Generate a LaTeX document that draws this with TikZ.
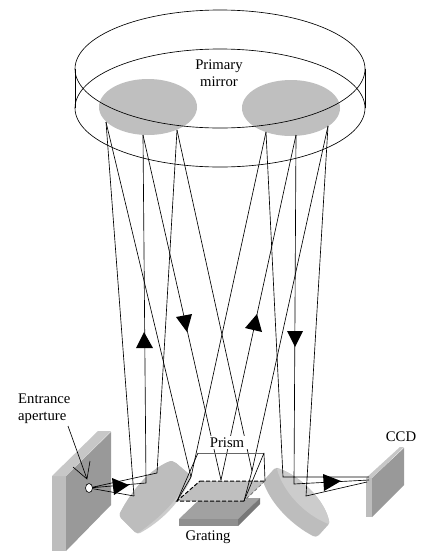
\documentclass[tikz,border=0pt]{standalone}
\usepackage{fontspec}
\setmainfont{Liberation Serif}
\definecolor{mlight}{gray}{0.80}
\definecolor{mdark}{gray}{0.74}
\definecolor{wfront}{gray}{0.6}
\definecolor{wlight}{gray}{0.74}
\definecolor{wtop}{gray}{0.78}
\begin{document}
\begin{tikzpicture}[x=1pt,y=-1pt,
  ray/.style={draw=black,line width=0.65pt},
  lbl/.style={inner sep=0pt,font=\fontsize{14.7}{17}\selectfont,align=center},
  tip/.style={fill=black,draw=none},
  edge/.style={draw=black,line width=0.65pt}]
\useasboundingbox (0,0) rectangle (425,560);
\fill[white] (0,0) rectangle (425,560);
% gray mirrors
\fill[black!25] (148,107) ellipse (49 and 28);
\fill[black!25] (291,108) ellipse (49 and 28);
% primary
\draw[edge] (220,69) ellipse (145 and 59);
\draw[edge] (220,108) ellipse (145 and 59);
\draw[edge] (75,69)--(75,108) (365,69)--(365,108);
\node[lbl] (pm) at (219,73.5) {Primary\\mirror};
% entrance wall
\fill[wfront] (66,476)--(111,432)--(111,505)--(66,551)--cycle;
\fill[wlight] (52,476)--(66,476)--(66,551)--(52,551)--cycle;
\fill[wtop] (52,476)--(98,431)--(111,431)--(66,476)--cycle;
% ccd
\fill[wfront] (372,478)--(404,448)--(404,485)--(372,517)--cycle;
\fill[wlight] (366,478)--(372,478)--(372,517)--(366,517)--cycle;
\fill[wtop] (366,478)--(400,447)--(404,447)--(372,478)--cycle;
% grating
\fill[black!37] (179,519)--(201,498)--(260,498)--(238,519)--cycle;
\fill[black!44] (179,519)--(238,519)--(238,526)--(179,526)--cycle;
\fill[black!53] (238,519)--(260,498)--(260,504)--(238,526)--cycle;
% side mirror, left
\fill[mlight] (120,513) .. controls (133,488) and (150,470) .. (168,462)
  .. controls (171,460.5) and (174,461) .. (176,463) -- (189,474)
  .. controls (191,476) and (191.5,478) .. (190,481)
  .. controls (178,505) and (160,522) .. (140,533)
  .. controls (138,534) and (137,533.5) .. (135,532) -- (121,518)
  .. controls (119.5,516.5) and (119.5,515) .. (120,513) -- cycle;
\fill[mdark] (120,513) .. controls (133,488) and (150,470) .. (168,462)
  .. controls (171,460.5) and (174,461) .. (176,463) -- (189,474)
  .. controls (186,479) and (184,486) .. (181,491)
  .. controls (170,508) and (155,521) .. (138,533)
  .. controls (137,533) and (136,532.5) .. (135,532) -- (121,518)
  .. controls (119.5,516.5) and (119.5,515) .. (120,513) -- cycle;
% side mirror, right
\fill[mdark] (265,479) -- (274,469) .. controls (276,467) and (278,468) .. (280,469)
  .. controls (300,476) and (325,500) .. (329,521)
  .. controls (329.5,523) and (329,524) .. (328,525) -- (319,535)
  .. controls (317,537) and (315,537) .. (313,536)
  .. controls (292,525) and (272,505) .. (264,484)
  .. controls (263.5,482) and (264,481) .. (265,479) -- cycle;
\fill[mlight] (277,469) .. controls (278,468) and (279,468.5) .. (280,469)
  .. controls (300,476) and (325,500) .. (329,521)
  .. controls (329.3,522.5) and (329,523.5) .. (328.5,524)
  .. controls (305,515) and (283,492) .. (277,469) -- cycle;
% prism base
\fill[black!25] (200,481)--(265,481)--(244,501)--(177,501)--cycle;
\draw[ray,dash pattern=on 4pt off 2pt,line width=1pt] (200,481)--(265,481) (244,501)--(177,501)--(200,481);
\draw[ray,dash pattern=on 3.5pt off 2pt,draw=black!60] (265,481)--(244,501);
% coordinates
\coordinate (a1) at (106,122);
\coordinate (a2) at (143,135);
\coordinate (a3) at (177,130);
\coordinate (b1) at (266,132);
\coordinate (b2) at (296,135);
\coordinate (b3) at (328,126);
\coordinate (m1) at (134,496);
\coordinate (m2) at (146,483);
\coordinate (m3) at (157,473);
\coordinate (k1) at (191,477);
\coordinate (k2) at (221,480);
\coordinate (k3) at (252,471);
\coordinate (c1) at (177,501);
\coordinate (c2) at (244,501);
\coordinate (r1) at (283,477);
\coordinate (r2) at (294,484);
\coordinate (r3) at (306,496);
\coordinate (ap) at (89,488);
\coordinate (s1) at (369,477);
\coordinate (s2) at (369,480);
\coordinate (s3) at (367,482);
% rays
\draw[ray] (a1)--(m1) (a2)--(m2) (a3)--(m3);
\draw[ray] (a1)--(k1) (a2)--(k2) (a3)--(k3);
\draw[ray] (b1)--(k1)--(c1) (b2)--(k2) (b3)--(k3)--(c2);
\draw[ray] (b1)--(r1)--(s1) (b2)--(r2)--(s2) (b3)--(r3)--(s3);
\draw[ray] (ap)--(m1) (ap)--(m2) (ap)--(m3);
% prism
\node[lbl,fill=white,inner xsep=4pt,inner ysep=2pt] (prism) at (227,442.5) {Prism};
\draw[edge,draw=black!60] (198,453)--(264,453);
\draw[edge] (198,453)--(177,501) (264,453)--(244,501) (264,453)--(265,481);
% arrow tips
\fill[tip] (112,478)--(129,485)--(114,495)--cycle;
\fill[tip] (144,332)--(136,348)--(153,348)--cycle;
\fill[tip] (176,317)--(192,314)--(187,332)--cycle;
\fill[tip] (257,314)--(245,328)--(262,332)--cycle;
\fill[tip] (287,331)--(303,331)--(295,347)--cycle;
\fill[tip] (323,474)--(341,481)--(324,491)--cycle;
% aperture
\draw[black,fill=white,line width=0.6pt] (ap) ellipse (3.5 and 4.5);
% labels
\node[lbl,align=left,anchor=west] (ea) at (18,408.5) {Entrance\\aperture};
\coordinate (et) at (87,479);
\draw[ray] (68,426)--(et) (73,467)--(et)--(90,461);
\node[lbl] (ccd) at (401,437) {CCD};
\node[lbl] (gr) at (208,537) {Grating};
\end{tikzpicture}
\end{document}
